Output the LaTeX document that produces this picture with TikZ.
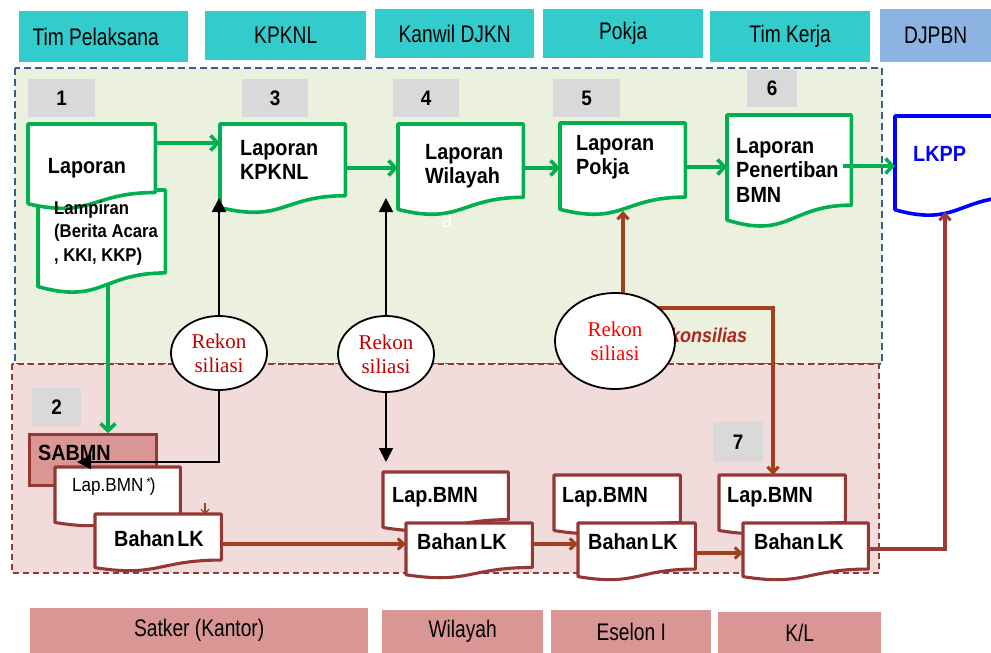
\documentclass[tikz,border=0pt]{standalone}
\usepackage{fontspec}
\setmainfont{Liberation Sans}[FakeStretch=0.9]
\newfontfamily\narrowfont{Liberation Sans}[FakeStretch=0.8]
\newfontfamily\timesfont{Liberation Serif}
\usetikzlibrary{shapes.geometric,arrows.meta,calc}
\definecolor{hteal}{HTML}{33CCCC}
\definecolor{hblue}{HTML}{8DB3E2}
\definecolor{bpink}{HTML}{DA9694}
\definecolor{greg}{HTML}{EBF1DE}
\definecolor{rreg}{HTML}{F2DCDB}
\definecolor{dblue}{HTML}{3A5F8B}
\definecolor{dred}{HTML}{953735}
\definecolor{gbox}{HTML}{D9D9D9}
\definecolor{sabfill}{HTML}{D99694}
\definecolor{gline}{HTML}{00B050}
\definecolor{brn}{HTML}{A0401C}
\definecolor{rline}{HTML}{9B3B3B}
\definecolor{rektxt}{HTML}{C00000}
\definecolor{konstxt}{HTML}{B0241E}
\newcommand\fs[2]{\fontsize{#1}{#2}\selectfont}
\newcommand\docdraw[2]{\draw[#2] (#1.north west) -- (#1.north east) -- ($(#1.south east)!0.198!(#1.north east)$) .. controls ($(#1.south)!0.198!(#1.north)$) and ($(#1.south)!-0.108!(#1.north)$) .. ($(#1.south west)!0.066!(#1.north west)$) -- cycle;}
\begin{document}
\begin{tikzpicture}[x=1pt,y=-1pt,
  hdr/.style={fill=hteal,draw=none,inner sep=0pt,anchor=north west,font=\narrowfont\fs{24}{26}},
  btm/.style={fill=bpink,draw=none,inner sep=0pt,anchor=north west,font=\narrowfont\fs{24}{26}},
  numbox/.style={fill=gbox,draw=none,inner sep=0pt,anchor=north west,font=\bfseries\fs{21}{22}},
  docbox/.style={draw=none,inner sep=0pt,anchor=north west,rectangle},
  gdoc/.style={draw=gline,fill=white,line width=3.6pt,line join=round},
  rdoc/.style={draw=dred,fill=white,line width=3.1pt,line join=round},
  bdoc/.style={draw=blue,fill=white,line width=3.6pt,line join=round},
  dtext/.style={inner sep=0pt,align=left,font=\bfseries\fs{22}{24.5}},
  rtext/.style={inner sep=0pt,align=left,font=\bfseries\fs{22}{24}},
  rekon/.style={ellipse,draw=black,fill=white,line width=1.8pt,inner sep=0pt,align=center,font=\timesfont\fs{21}{24}},
  garrow/.style={draw=gline,line width=3.6pt,-{Straight Barb[length=7pt,width=15pt]}},
  barrow/.style={draw=black,line width=1.8pt,-{Triangle[length=14pt,width=14pt]}},
  brarrow/.style={draw=brn,line width=3.1pt,-{Straight Barb[length=6pt,width=11pt]}}
]
\clip (0,0) rectangle (991,653);
\fill[white] (0,0) rectangle (991,653);

% headers
\node[hdr,minimum width=169pt,minimum height=51pt] (hTim) at (19,11) {Tim Pelaksana\hspace*{16pt}};
\node[hdr,minimum width=161pt,minimum height=49pt] (hKpk) at (205,11) {KPKNL};
\node[hdr,minimum width=159pt,minimum height=49pt] (hKan) at (375,9) {Kanwil DJKN};
\node[hdr,minimum width=160pt,minimum height=49pt] (hPok) at (543,9) {Pokja};
\node[hdr,minimum width=160pt,minimum height=51pt] (hTK) at (710,11) {Tim Kerja};
\node[hdr,fill=hblue,minimum width=111pt,minimum height=53pt] (hDJ) at (880,9) {DJPBN};

% bottom labels
\node[btm,minimum width=338pt,minimum height=45pt] (bSat) at (30,608) {Satker (Kantor)};
\node[btm,minimum width=161pt,minimum height=43pt] (bWil) at (382,610) {Wilayah};
\node[btm,minimum width=160pt,minimum height=43pt] (bEse) at (551,610) {Eselon I};
\node[btm,minimum width=163pt,minimum height=41pt] (bKL) at (718,612) {K/L};

% regions
\draw[fill=greg,draw=dblue,line width=2.5pt,dash pattern=on 7pt off 4pt] (15,68) rectangle (882,364);
\draw[fill=rreg,draw=dred,line width=2pt,dash pattern=on 6pt off 4pt] (12,364) rectangle (879,573);

% number boxes
\node[numbox,minimum width=67pt,minimum height=38pt] (n1) at (28,79) {1};
\node[numbox,minimum width=66pt,minimum height=38pt] (n3) at (242,79) {3};
\node[numbox,minimum width=66pt,minimum height=38pt] (n4) at (393,79) {4};
\node[numbox,minimum width=67pt,minimum height=38pt] (n5) at (553,79) {5};
\node[numbox,minimum width=50pt,minimum height=37pt] (n6) at (747,70) {6};
\node[numbox,minimum width=49pt,minimum height=38pt] (n2) at (32,388) {2};
\node[numbox,minimum width=50pt,minimum height=40pt] (n7) at (713,422) {7};

% SABMN
\node[draw=dred,fill=sabfill,line width=3pt,inner sep=0pt,anchor=north west,minimum width=127pt,minimum height=51pt] (sab) at (28,433) {};
\node[rtext,anchor=west] (sabT) at (38,453) {SABMN};

% green line Lampiran -> SABMN
\draw[garrow] (108,250) -- (108,433);

% top documents
\node[docbox,minimum width=127pt,minimum height=103pt] (lamp) at (38,190) {};
\docdraw{lamp}{gdoc}
\node[docbox,minimum width=127pt,minimum height=85pt] (lap1) at (28,124) {};
\docdraw{lap1}{gdoc}
\node[docbox,minimum width=125pt,minimum height=89pt] (kpknl) at (220,124) {};
\docdraw{kpknl}{gdoc}
\node[docbox,minimum width=125pt,minimum height=91pt] (wil) at (398,124) {};
\docdraw{wil}{gdoc}
\node[docbox,minimum width=125pt,minimum height=92pt] (pokja) at (560,123) {};
\docdraw{pokja}{gdoc}
\node[docbox,minimum width=124pt,minimum height=112pt] (pener) at (727,115) {};
\docdraw{pener}{gdoc}
\node[docbox,minimum width=125pt,minimum height=100pt] (lkpp) at (895,116) {};
\docdraw{lkpp}{bdoc}

\node[dtext,anchor=center] (lap1T) at (87,168) {Laporan};
\node[dtext,anchor=west,font=\bfseries\fs{18.5}{23.5}] (lampT) at (54,233) {Lampiran\\(Berita Acara\\, KKI, KKP)};
\node[dtext,anchor=west] (kpknlT) at (240,160) {Laporan\\KPKNL};
\node[dtext,anchor=west] (wilT) at (425,166) {Laporan\\Wilayah};
\node[dtext,anchor=west] (pokjaT) at (576,157) {Laporan\\Pokja};
\node[dtext,anchor=west] (penerT) at (736,170) {Laporan\\Penertiban\\BMN};
\node[dtext,anchor=west,text=blue] (lkppT) at (913,154) {LKPP};
\node[inner sep=0pt,text=white,font=\fs{22}{24}] (aT) at (447,222) {a};

% bottom documents
\node[docbox,minimum width=125pt,minimum height=59pt] (lapA) at (55,467) {};
\docdraw{lapA}{rdoc}
\node[docbox,minimum width=126pt,minimum height=57pt] (lkA) at (95,514) {};
\docdraw{lkA}{rdoc}
\node[docbox,minimum width=125pt,minimum height=59pt] (lapB) at (383,472) {};
\docdraw{lapB}{rdoc}
\node[docbox,minimum width=126pt,minimum height=55pt] (lkB) at (406,523) {};
\docdraw{lkB}{rdoc}
\node[docbox,minimum width=126pt,minimum height=59pt] (lapC) at (554,475) {};
\docdraw{lapC}{rdoc}
\node[docbox,minimum width=117pt,minimum height=57pt] (lkC) at (578,523) {};
\docdraw{lkC}{rdoc}
\node[docbox,minimum width=126pt,minimum height=59pt] (lapD) at (719,475) {};
\docdraw{lapD}{rdoc}
\node[docbox,minimum width=125pt,minimum height=57pt] (lkD) at (743,523) {};
\docdraw{lkD}{rdoc}

\node[inner sep=0pt,anchor=west,font=\fs{19}{20}] (lapAT) at (72,487) {Lap.BMN\,\raisebox{5pt}{\fs{12}{12}*}\kern-1pt)};
\node[rtext] (lkAT) at (159,539) {Bahan\hspace{0.12em}LK};
\node[rtext,anchor=west] (lapBT) at (392,497) {Lap.BMN};
\node[rtext] (lkBT) at (462,542) {Bahan\hspace{0.12em}LK};
\node[rtext,anchor=west] (lapCT) at (562,497) {Lap.BMN};
\node[rtext] (lkCT) at (633,542) {Bahan\hspace{0.12em}LK};
\node[rtext,anchor=west] (lapDT) at (727,497) {Lap.BMN};
\node[rtext] (lkDT) at (799,542) {Bahan\hspace{0.12em}LK};

% small mark
\draw[draw=brn,line width=1.2pt,-{Straight Barb[length=4pt,width=8pt]}] (205,503) -- (205,514);

% green arrows
\draw[garrow] (lap1.north east |- 0,143) -- (kpknl.north west |- 0,143);
\draw[garrow] (kpknl.north east |- 0,168) -- (wil.north west |- 0,168);
\draw[garrow] (wil.north east |- 0,168) -- (pokja.north west |- 0,168);
\draw[garrow] (pokja.north east |- 0,167) -- (pener.north west |- 0,167);
\draw[garrow] ([xshift=-8pt]pener.north east |- 0,166) -- (lkpp.north west |- 0,166);

% brown arrows
\draw[brarrow] (623,320) -- (623,211);
\coordinate (kTurn) at (773,308);
\draw[brarrow] (640,308) -- (kTurn) -- (lapD.north -| kTurn);
\node[inner sep=0pt,anchor=west,text=konstxt,font=\bfseries\itshape\fs{20}{22}] (konsT) at (670,335) {konsilias};
\draw[brarrow] (lkA.east |- 0,544) -- (lkB.west |- 0,544);
\draw[brarrow] (lkB.east |- 0,544) -- (lkC.west |- 0,544);
\draw[brarrow] (lkC.east |- 0,553) -- (lkD.west |- 0,553);
\coordinate (lkTurn) at (945,549);
\draw[brarrow,draw=rline] (lkD.east |- lkTurn) -- (lkTurn) -- (945,212);

% rekonsiliasi ellipses
\node[rekon,text=rektxt,minimum width=96pt,minimum height=74pt] (e1) at (219,353) {Rekon\\siliasi};
\node[rekon,text=rektxt,minimum width=96pt,minimum height=76pt] (e2) at (386,354) {Rekon\\siliasi};
\node[rekon,text=red,minimum width=120pt,minimum height=96pt] (e3) at (615,341) {Rekon\\siliasi};

% black arrows
\coordinate (sabIn) at (77,462);
\draw[barrow] (e1.north) -- (e1.north |- 0,198);
\draw[barrow] (e1.south) -- (e1.south |- sabIn) -- (sabIn);
\draw[barrow] (e2.north) -- (e2.north |- 0,198);
\draw[barrow] (e2.south) -- (e2.south |- 0,462);
\end{tikzpicture}
\end{document}
